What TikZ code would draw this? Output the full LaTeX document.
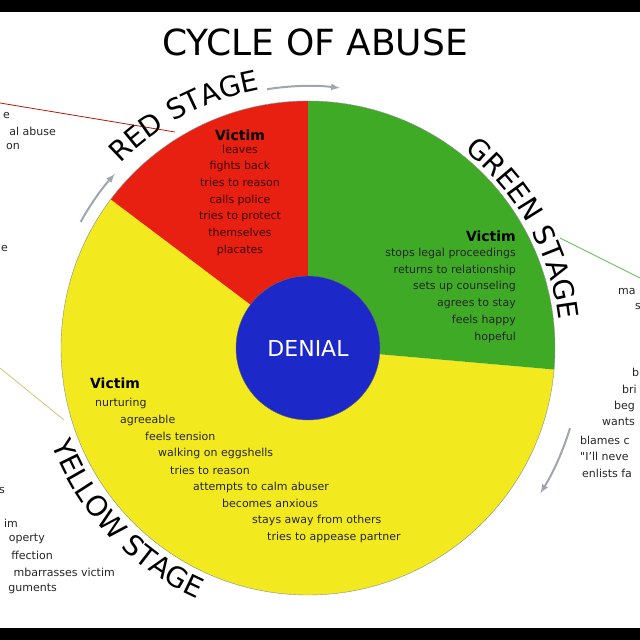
\documentclass[tikz,border=0pt]{standalone}
\usepackage{fontspec}
\setmainfont{DejaVu Sans}
\usetikzlibrary{calc}
\usetikzlibrary{positioning}
\usetikzlibrary{decorations.text}
\definecolor{stagered}{RGB}{232,32,18}
\definecolor{stagegreen}{RGB}{62,170,38}
\definecolor{stageyellow}{RGB}{242,234,30}
\definecolor{denialblue}{RGB}{28,40,200}
\definecolor{arrowgray}{RGB}{160,165,175}

\begin{document}
\begin{tikzpicture}[x=1pt, y=1pt,
        victim_text/.style={font=\fontsize{11}{16.7}\selectfont, align=center, inner sep=0pt},
        victim_head/.style={font=\fontsize{14}{16}\selectfont\bfseries, inner sep=0pt},
        side_text/.style={font=\fontsize{11}{16}\selectfont, inner sep=0pt, text=black!85},
        stage_label/.style={decoration={text along path, text align=center,
            text={|\fontsize{28}{30}\selectfont|#1}, text format delimiters={|}{|}}, postaction={decorate}},
        cycle_arrow/.style={arrowgray, line width=2pt, -latex}]

      \useasboundingbox (0,0) rectangle (640,640);
      \clip (0,0) rectangle (640,640);
      \fill[black] (0,0) rectangle (640,640);
      \fill[white] (0,12) rectangle (640,628);

      \coordinate (c) at (308,292);

      % pointer lines to the cut off side lists
      \draw[stagered!80!black, thick] (0,537) -- (175,508);
      \draw[stagegreen!80, thick] (560,402) -- (640,362);
      \draw[stageyellow!70!black!60, thick] (0,272) -- (64,220);

      % sectors
      \fill[stageyellow] (c) -- ++(143:247) arc[start angle=143, end angle=355, radius=247] -- cycle;
      \fill[stagered] (c) -- ++(90:247) arc[start angle=90, end angle=143, radius=247] -- cycle;
      \fill[stagegreen] (c) -- ++(-5:247) arc[start angle=-5, end angle=90, radius=247] -- cycle;
      \draw[black!45, thin] (c) circle[radius=247];

      \node[circle, fill=denialblue, draw=black!60, minimum size=144pt, text=white,
        font=\fontsize{22}{24}\selectfont] (denial) at (c) {DENIAL};

      \node[font=\fontsize{36}{40}\selectfont] (title) at (315,598) {CYCLE OF ABUSE};

      % stage names round the wheel
      \path[stage_label={RED STAGE}]
        ($(c)+(138:263)$) arc[start angle=138, end angle=98, radius=263];
      \path[stage_label={GREEN STAGE}]
        ($(c)+(53:252)$) arc[start angle=53, end angle=5, radius=252];
      \path[stage_label={YELLOW STAGE}]
        ($(c)+(195:274)$) arc[start angle=195, end angle=252, radius=274];

      \draw[cycle_arrow] ($(c)+(151:260)$) arc[start angle=151, end angle=138, radius=260];
      \draw[cycle_arrow] ($(c)+(99:262)$) arc[start angle=99, end angle=83, radius=262];
      \draw[cycle_arrow] ($(c)+(-17:274)$) arc[start angle=-17, end angle=-32, radius=274];

      % red stage
      \node[victim_head] (red_head) at (240,505) {Victim};
      \node[victim_text, below=4pt of red_head, text=black!75!stagered] (red_list)
        {leaves\\fights back\\tries to reason\\calls police\\tries to protect\\themselves\\placates};

      % green stage
      \node[victim_head, anchor=east] (green_head) at (516,404) {Victim};
      \node[victim_text, align=right, anchor=north east, text=black!85] (green_list) at (516,392)
        {stops legal proceedings\\returns to relationship\\sets up counseling\\agrees to stay\\feels happy\\hopeful};

      % yellow stage
      \node[victim_head] (yellow_head) at (115,257) {Victim};
      \foreach \x/\y/\t in {95/237/nurturing, 120/220/agreeable, 145/204/feels tension,
          158/187/walking on eggshells, 170/170/tries to reason, 193/153/attempts to calm abuser,
          222/137/becomes anxious, 252/120/stays away from others, 267/103/tries to appease partner}
        \node[victim_text, anchor=west, text=black!85] at (\x,\y) {\t};

      % cut off lists at the sides
      \foreach \x/\y/\t in {10/524/e, 56/509/al abuse, 20/493/on, 8/391/e, 5/150/s, 18/117/im,
          45/101/operty, 53/85/ffection, 115/68/mbarrasses victim, 57/51/guments}
        \node[side_text, anchor=east] at (\x,\y) {\t};
      \foreach \x/\y/\t in {618/348/ma, 635/333/s, 632/268/b, 622/251/bri, 614/234/beg,
          602/218/wants, 580/200/blames c, 580/184/\textquotedbl I'll neve, 582/167/enlists fa}
        \node[side_text, anchor=west] at (\x,\y) {\t};
    \end{tikzpicture}
\end{document}
